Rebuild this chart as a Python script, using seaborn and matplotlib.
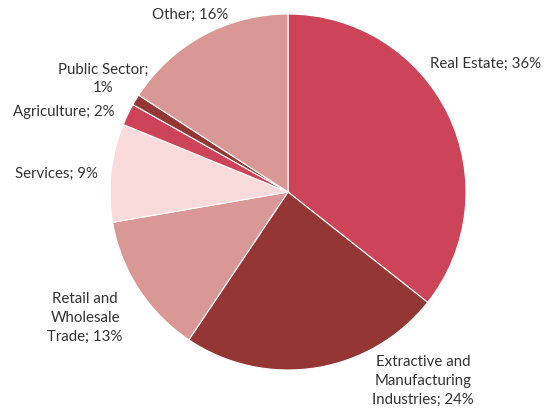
import matplotlib
matplotlib.use("Agg")
import matplotlib.pyplot as plt
import seaborn as sns

sectors = ["Real Estate", "Extractive and\nManufacturing\nIndustries", "Retail and\nWholesale\nTrade",
           "Services", "Agriculture", "Public Sector;\n", "Other"]
shares = [36, 24, 13, 9, 2, 1, 16]
colors = ["#CD4358", "#943634", "#D99795", "#F9DBDB", "#CD4358", "#943634", "#D99795"]

# label anchor positions, in units of the pie radius
label_xy = [(1.11, 0.72), (0.76, -1.06), (-1.14, -0.71), (-1.30, 0.10),
            (-1.26, 0.45), (-1.04, 0.635), (-0.55, 0.994)]

sns.set_theme(style="white")
plt.rcParams["font.family"] = ["Lato", "DejaVu Sans"]

W, H = 544, 409
fig = plt.figure(figsize=(W / 100, H / 100), dpi=100)
cx, cy, r = 288, 192, 178
ax = fig.add_axes([(cx - r) / W, (H - cy - r) / H, 2 * r / W, 2 * r / H])

ax.pie(shares, colors=colors, startangle=90, counterclock=False, radius=1,
       wedgeprops=dict(edgecolor="white", linewidth=0.8))
ax.set_xlim(-1, 1)
ax.set_ylim(-1, 1)
ax.set_axis_off()

for name, val, (x, y) in zip(sectors, shares, label_xy):
    if name.endswith(";\n"):
        txt = f"{name}{val}%"
    else:
        txt = f"{name}; {val}%"
    ax.text(x, y, txt, ha="center", va="center", fontsize=10.8, color="#333333",
            linespacing=1.45, clip_on=False)

fig.savefig("out.png", dpi=100, facecolor="white")
